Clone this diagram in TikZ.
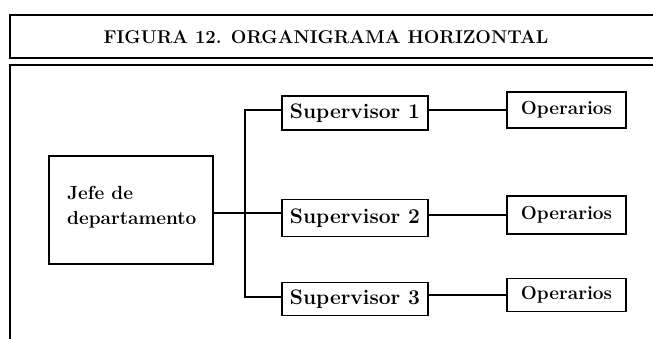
\documentclass[tikz,border=0pt]{standalone}
\usetikzlibrary{positioning}
\begin{document}
\begin{tikzpicture}[x=1pt,y=-1pt,
  txt/.style={font=\fontsize{19}{25}\selectfont\bfseries},
  box/.style={draw,line width=1.5pt,rectangle,inner sep=0pt,txt},
  supbox/.style={box,minimum width=146pt,font=\fontsize{21}{25}\selectfont\bfseries},
  opbox/.style={box,minimum width=119pt},
  conn/.style={line width=1.5pt},
  frame/.style={line width=1.6pt}]
\useasboundingbox (0,0) rectangle (653,339);
% title frame
\draw[frame] (653,15) -- (10,15) -- (10,58) -- (653,58);
\node (title) at (326,37) {\fontsize{18.5}{22}\selectfont\bfseries FIGURA 12. ORGANIGRAMA HORIZONTAL};
% body frame
\draw[frame] (653,65) -- (10,65) -- (10,339);
% nodes
\node[box,minimum width=164pt,minimum height=108pt] (jefe) at (131,210) {};
\node[align=left,anchor=west,txt,inner sep=0pt] (jefet) at (67,207) {Jefe de\\departamento};
\node[supbox,minimum height=34pt] (s1) at (355,113) {Supervisor 1};
\node[supbox,minimum height=37pt] (s2) at (355,218) {Supervisor 2};
\node[supbox,minimum height=33pt] (s3) at (355,299) {Supervisor 3};
\node[opbox,minimum height=36pt] (o1) at (566.5,110) {Operarios};
\node[opbox,minimum height=38pt] (o2) at (566.5,215) {Operarios};
\node[opbox,minimum height=33pt] (o3) at (566.5,295) {Operarios};
% connectors
\coordinate (t1) at (245,110);
\coordinate (t3) at (245,297);
\draw[conn] (s1.west |- t1) -- (t1) -- (t3) -- (s3.west |- t3);
\draw[conn] (jefe.east |- 0,213) -- (s2.west |- 0,213);
\draw[conn] (s1.east |- o1) -- (o1.west);
\draw[conn] (s2.east |- o2) -- (o2.west);
\draw[conn] (s3.east |- o3) -- (o3.west);
\end{tikzpicture}
\end{document}
